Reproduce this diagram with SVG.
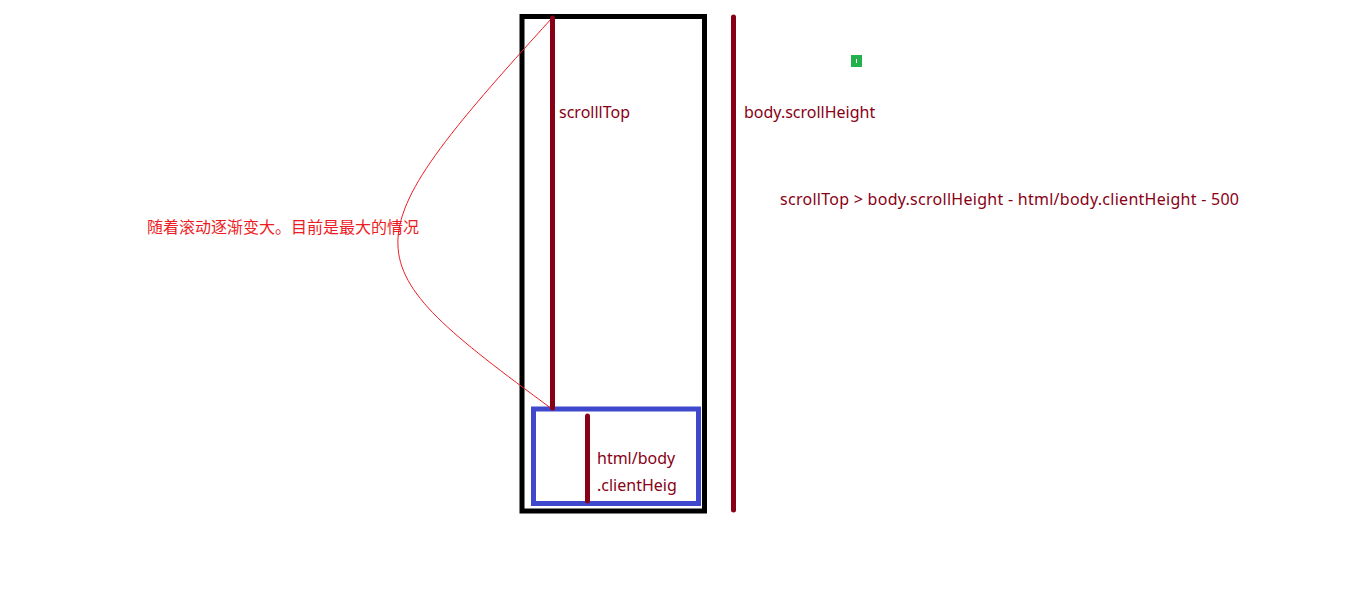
<svg xmlns="http://www.w3.org/2000/svg" width="1360" height="591" viewBox="0 0 1360 591">
<style>
.lbl{font-family:"Noto Sans","Noto Sans CJK SC",sans-serif;font-size:16px;fill:#880015}
.cn{font-family:"Noto Sans CJK SC",sans-serif;font-size:16px;fill:#ed1c24}
.bar{stroke:#880015;stroke-width:5;stroke-linecap:round;fill:none}
</style>
<rect width="1360" height="591" fill="#fff"/>
<g id="viewport">
<rect x="522" y="16.5" width="182.5" height="494.5" fill="none" stroke="#000" stroke-width="5"/>
</g>
<g id="client-box">
<rect x="533.5" y="409" width="165" height="94.5" fill="none" stroke="#3f48cc" stroke-width="5"/>
</g>
<g id="connectors">
<path d="M552,18 C343,248 350,260 552,409" fill="none" stroke="#ed1c24" stroke-width="1"/>
<line class="bar" x1="552.5" y1="18" x2="552.5" y2="408"/>
<line class="bar" x1="587.5" y1="416" x2="587.5" y2="501"/>
<line class="bar" x1="733.5" y1="17" x2="733.5" y2="510"/>
</g>
<g id="scrollTop-label"><text class="lbl" x="559" y="118">scrolllTop</text></g>
<g id="scrollHeight-label"><text class="lbl" x="744" y="118">body.scrollHeight</text></g>
<g id="client-label">
<text class="lbl" x="597" y="464">html/body</text>
<text class="lbl" x="597" y="491">.clientHeig</text>
</g>
<g id="formula"><text class="lbl" x="780" y="205" textLength="459" lengthAdjust="spacing">scrollTop &gt; body.scrollHeight - html/body.clientHeight - 500</text></g>
<g id="note"><text class="cn" x="147" y="233">随着滚动逐渐变大。目前是最大的情况</text></g>
<g id="green-mark">
<rect x="851" y="55" width="11" height="12" fill="#22b14c"/>
<line x1="856.5" y1="59" x2="856.5" y2="63" stroke="#fff" stroke-width="1"/>
</g>
</svg>
